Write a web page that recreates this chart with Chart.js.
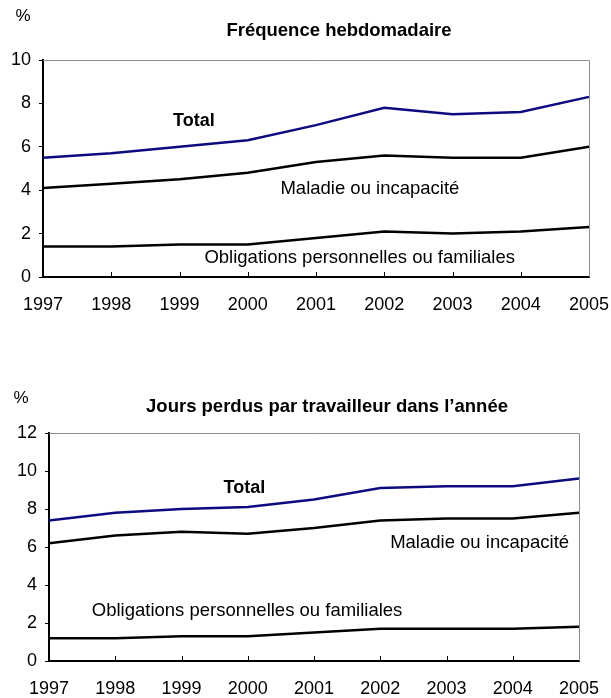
<!DOCTYPE html>
<html>
<head>
<meta charset="utf-8">
<script src="https://cdn.jsdelivr.net/npm/chart.js@4.4.1/dist/chart.umd.min.js"></script>
<style>
  html, body { margin: 0; padding: 0; background: #fff; }
  canvas { display: block; }
</style>
</head>
<body>
<canvas id="chartFreq" width="611" height="350"></canvas>
<canvas id="chartJours" width="611" height="348"></canvas>
<script>
const years = ["1997", "1998", "1999", "2000", "2001", "2002", "2003", "2004", "2005"];

// Fréquence hebdomadaire (%)
const freqTotal = [5.5, 5.7, 6.0, 6.3, 7.0, 7.8, 7.5, 7.6, 8.3];
const freqMaladie = [4.1, 4.3, 4.5, 4.8, 5.3, 5.6, 5.5, 5.5, 6.0];
const freqObligations = [1.4, 1.4, 1.5, 1.5, 1.8, 2.1, 2.0, 2.1, 2.3];

// Jours perdus par travailleur dans l'année (%)
const joursTotal = [7.4, 7.8, 8.0, 8.1, 8.5, 9.1, 9.2, 9.2, 9.6];
const joursMaladie = [6.2, 6.6, 6.8, 6.7, 7.0, 7.4, 7.5, 7.5, 7.8];
const joursObligations = [1.2, 1.2, 1.3, 1.3, 1.5, 1.7, 1.7, 1.7, 1.8];

const FONT = "'Liberation Sans', Arial, Helvetica, sans-serif";

// draws the title, the % sign, series labels, the grey top/right frame and inward x ticks
const extrasPlugin = {
  id: "extras",
  afterDraw(chart, args, opts) {
    const ctx = chart.ctx;
    const area = chart.chartArea;
    const x = chart.scales.x;
    const y = chart.scales.y;
    ctx.save();

    ctx.strokeStyle = "#8c8c8c";
    ctx.lineWidth = 1;
    ctx.beginPath();
    ctx.moveTo(area.left, area.top + 0.5);
    ctx.lineTo(area.right + 0.5, area.top + 0.5);
    ctx.lineTo(area.right + 0.5, area.bottom);
    ctx.stroke();

    ctx.strokeStyle = "#000";
    ctx.lineWidth = 1;
    for (let i = 1; i < years.length - 1; i++) {
      const px = Math.round(x.getPixelForValue(i)) + 0.5;
      ctx.beginPath();
      ctx.moveTo(px, area.bottom);
      ctx.lineTo(px, area.bottom - 5);
      ctx.stroke();
    }

    ctx.fillStyle = "#000";
    ctx.textAlign = "center";
    ctx.textBaseline = "middle";
    ctx.font = "bold 18.5px " + FONT;
    ctx.fillText(opts.title, opts.titleX, opts.titleY);
    ctx.font = "17px " + FONT;
    ctx.fillText("%", opts.pctX, opts.pctY);

    opts.labels.forEach(l => {
      ctx.font = (l.bold ? "bold 18px " : "18.5px ") + FONT;
      ctx.fillText(l.text, x.getPixelForValue(l.i), y.getPixelForValue(l.v));
    });
    ctx.restore();
  }
};

function makeChart(id, total, maladie, obligations, cfg) {
  const ctx = document.getElementById(id).getContext("2d");
  return new Chart(ctx, {
    type: "line",
    data: {
      labels: years,
      datasets: [
        { label: "Total", data: total, borderColor: "#0c0c80", borderWidth: 2.5, pointRadius: 0, tension: 0 },
        { label: "Maladie ou incapacité", data: maladie, borderColor: "#000", borderWidth: 2.5, pointRadius: 0, tension: 0 },
        { label: "Obligations personnelles ou familiales", data: obligations, borderColor: "#000", borderWidth: 2.5, pointRadius: 0, tension: 0 },
      ],
    },
    options: {
      responsive: false,
      animation: false,
      layout: { padding: cfg.padding },
      plugins: {
        legend: { display: false },
        tooltip: { enabled: false },
        extras: cfg.extras,
      },
      scales: {
        x: {
          offset: false,
          afterFit: s => {
            s.height = cfg.xHeight;
            // let the layout padding alone decide the side margins
            s.paddingLeft = 0;
            s.paddingRight = 0;
          },
          grid: { drawOnChartArea: false, drawTicks: false },
          border: { color: "#000", width: 2 },
          ticks: { color: "#000", font: { family: FONT, size: 18 }, padding: 17, maxRotation: 0, autoSkip: false },
        },
        y: {
          min: 0,
          max: cfg.yMax,
          afterFit: s => { s.width = cfg.yWidth; },
          grid: { drawOnChartArea: false, drawTicks: true, tickLength: 4, color: "#000" },
          border: { color: "#000", width: 2 },
          ticks: { stepSize: 2, color: "#000", font: { family: FONT, size: 18 }, padding: 8 },
        },
      },
    },
    plugins: [extrasPlugin],
  });
}

makeChart("chartFreq", freqTotal, freqMaladie, freqObligations, {
  yMax: 10,
  yWidth: 43,
  xHeight: 73,
  padding: { top: 60, right: 22, left: 0, bottom: 0 },
  extras: {
    title: "Fréquence hebdomadaire",
    titleX: 339, titleY: 31,
    pctX: 23, pctY: 16,
    labels: [
      { text: "Total", i: 2.21, v: 7.19, bold: true },
      { text: "Maladie ou incapacité", i: 4.79, v: 4.06 },
      { text: "Obligations personnelles ou familiales", i: 4.64, v: 0.88 },
    ],
  },
});

makeChart("chartJours", joursTotal, joursMaladie, joursObligations, {
  yMax: 12,
  yWidth: 49,
  xHeight: 37,
  padding: { top: 83, right: 32, left: 0, bottom: 0 },
  extras: {
    title: "Jours perdus par travailleur dans l’année",
    titleX: 327, titleY: 57,
    pctX: 21, pctY: 48,
    labels: [
      { text: "Total", i: 2.95, v: 9.11, bold: true },
      { text: "Maladie ou incapacité", i: 6.50, v: 6.21 },
      { text: "Obligations personnelles ou familiales", i: 2.99, v: 2.62 },
    ],
  },
});
</script>
</body>
</html>
